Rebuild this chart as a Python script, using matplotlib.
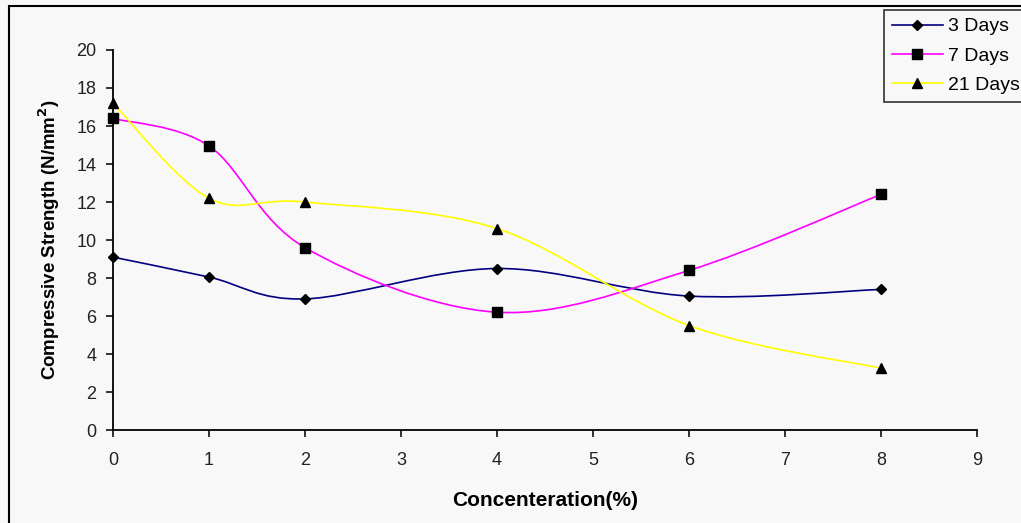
import matplotlib
matplotlib.use("Agg")
import matplotlib.pyplot as plt
from matplotlib.path import Path
from matplotlib.patches import PathPatch, Rectangle
from matplotlib.lines import Line2D

plt.rcParams['font.family'] = ['Liberation Sans', 'DejaVu Sans']

# data
conc = [0, 1, 2, 4, 6, 8]
days3 = [9.1, 8.05, 6.9, 8.5, 7.05, 7.4]
days7 = [16.4, 14.95, 9.6, 6.2, 8.4, 12.4]
days21 = [17.2, 12.2, 12.0, 10.6, 5.5, 3.25]
labels = ['3 Days', '7 Days', '21 Days']
colors = ['#000080', '#FF00FF', '#FFFF00']
markers = ['D', 's', '^']
msizes = [5.5, 6.5, 7]
bg = '#F8F8F8'


def smooth_path(xs, ys):
    # Excel-style smoothed line: cubic bezier between points
    pts = list(zip(xs, ys))
    n = len(pts)
    verts = [pts[0]]
    codes = [Path.MOVETO]
    for i in range(n - 1):
        p0 = pts[i - 1] if i > 0 else pts[i]
        p1 = pts[i]
        p2 = pts[i + 1]
        p3 = pts[i + 2] if i + 2 < n else pts[i + 1]
        c1 = (p1[0] + (p2[0] - p0[0]) / 6, p1[1] + (p2[1] - p0[1]) / 6)
        c2 = (p2[0] - (p3[0] - p1[0]) / 6, p2[1] - (p3[1] - p1[1]) / 6)
        verts += [c1, c2, p2]
        codes += [Path.CURVE4] * 3
    return Path(verts, codes)


fig = plt.figure(figsize=(10.21, 5.23), dpi=100, facecolor=bg)
ax = fig.add_axes([0.1107, 0.1778, 0.8462, 0.7266], facecolor=bg)

for ys, c, m, ms, lab in zip([days3, days7, days21], colors, markers, msizes, labels):
    ax.add_patch(PathPatch(smooth_path(conc, ys), facecolor='none', edgecolor=c, lw=1.2, zorder=2))
    ax.plot(conc, ys, linestyle='none', marker=m, color='black', markersize=ms, zorder=3, clip_on=False)

ax.set_xlim(0, 9)
ax.set_ylim(0, 20)
ax.set_xticks(range(0, 10))
ax.set_yticks(range(0, 21, 2))
ax.spines['top'].set_visible(False)
ax.spines['right'].set_visible(False)
ax.spines['left'].set_linewidth(1.3)
ax.spines['bottom'].set_linewidth(1.3)
ax.tick_params(direction='out', length=5, width=1.3, labelsize=13, colors='#222222', pad=7)
ax.tick_params(axis='x', pad=11)

ax.set_xlabel('Concenteration(%)', fontsize=15, fontweight='bold', labelpad=16)
ax.set_ylabel('Compressive Strength (N/mm$^\\mathbf{2}$)', fontsize=13.5, fontweight='bold', labelpad=10)

# legend (runs off the right edge like the original)
handles = [Line2D([], [], color=c, marker=m, markerfacecolor='black', markeredgecolor='black',
                  markersize=ms, lw=1.2) for c, m, ms in zip(colors, markers, msizes)]
leg = fig.legend(handles, labels, loc='upper left', bbox_to_anchor=(0.866, 0.981),
                 fontsize=14, frameon=True, fancybox=False, edgecolor='black',
                 facecolor=bg, borderpad=0.4, labelspacing=0.6, handlelength=2.6,
                 handletextpad=0.3, borderaxespad=0)
leg.get_frame().set_linewidth(1.2)

# outer chart border
fig.patches.append(Rectangle((9 / 1021, -0.05), 1.1, 1.05 - 6 / 523,
                             transform=fig.transFigure, fill=False, edgecolor='black',
                             lw=1.5, clip_on=False))

fig.savefig('out.png', dpi=100, facecolor=bg)
